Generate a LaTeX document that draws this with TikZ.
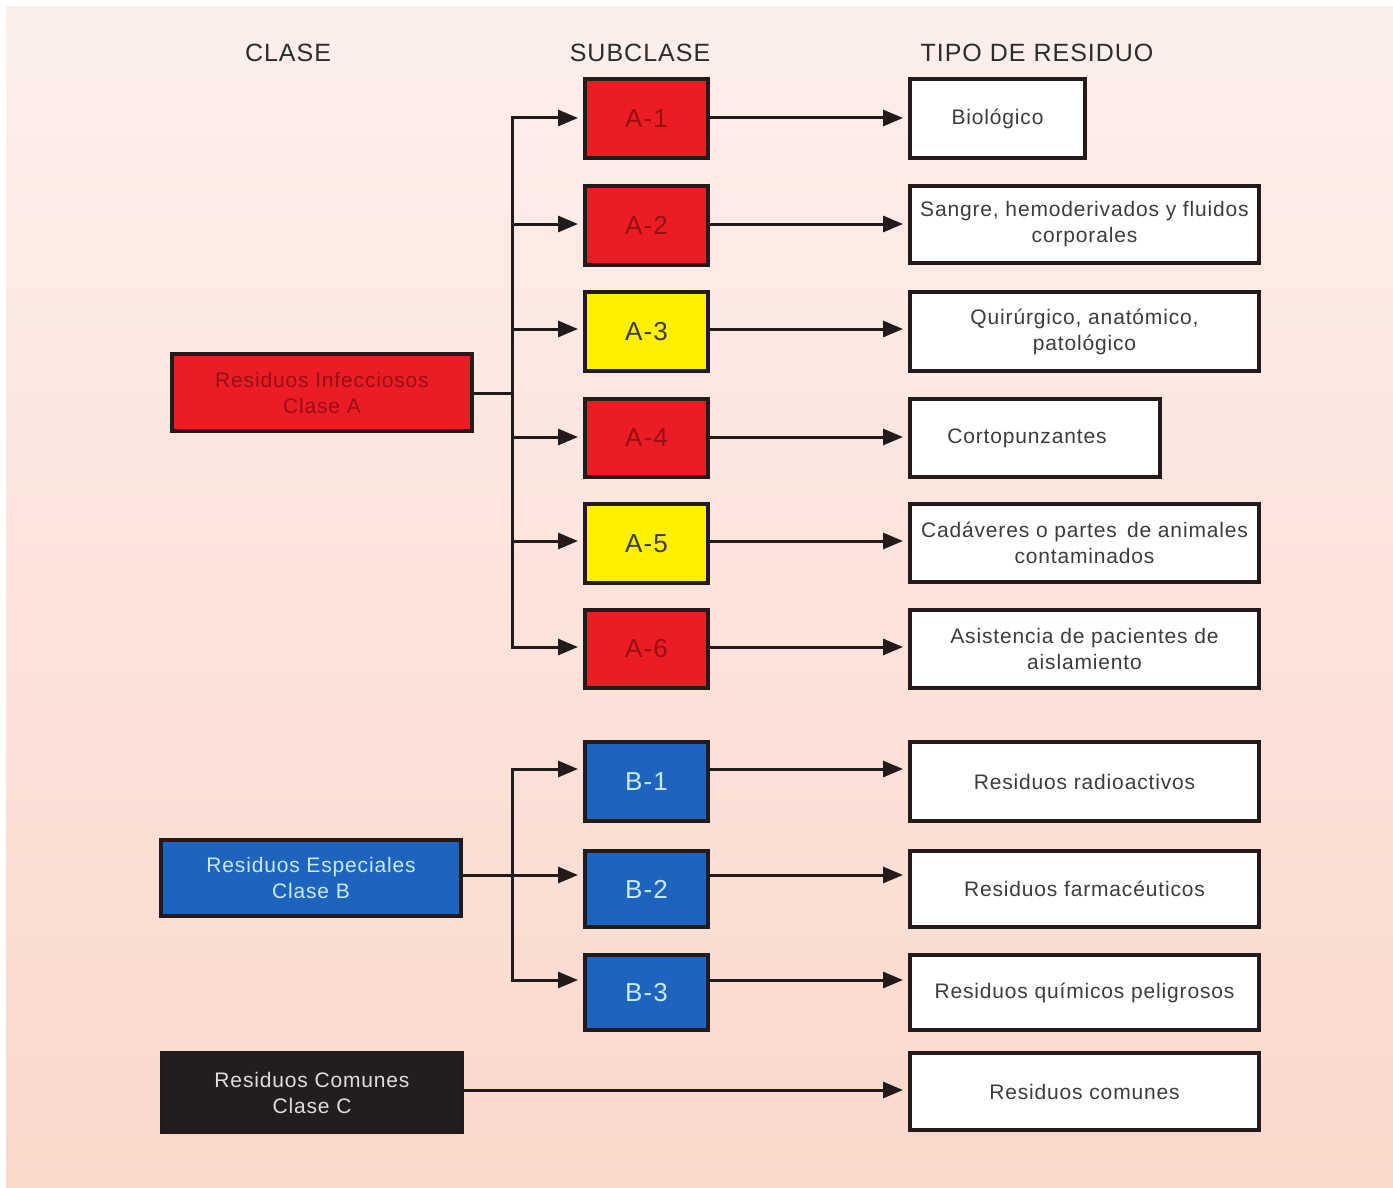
\documentclass[tikz,border=0pt]{standalone}
\usepackage{fontspec}
\setmainfont{Liberation Sans}[LetterSpace=4]
\usetikzlibrary{arrows.meta}
\definecolor{bgtop}{RGB}{252,239,235}
\definecolor{bgbot}{RGB}{250,216,204}
\definecolor{edge}{RGB}{35,27,27}
\definecolor{redfill}{RGB}{236,28,36}
\definecolor{redtxt}{RGB}{150,15,20}
\definecolor{yelfill}{RGB}{255,240,0}
\definecolor{bluefill}{RGB}{30,100,190}
\definecolor{bluetxt}{RGB}{200,232,250}
\definecolor{blkfill}{RGB}{35,30,30}
\definecolor{blktxt}{RGB}{222,222,222}
\definecolor{txtgray}{RGB}{60,60,60}
\definecolor{headtxt}{RGB}{45,45,45}
\begin{document}
\begin{tikzpicture}[x=1pt,y=-1pt,
  box/.style={draw=edge, line width=4pt, inner sep=0pt, align=center,
    font=\fontsize{21}{26}\selectfont},
  cls/.style={box, minimum width=300pt},
  sub/.style={box, minimum width=123pt, font=\fontsize{26}{30}\selectfont},
  redsub/.style={sub, fill=redfill, text=redtxt},
  yelsub/.style={sub, fill=yelfill, text=txtgray},
  bluesub/.style={sub, fill=bluefill, text=bluetxt},
  typ/.style={box, fill=white, text=txtgray},
  head/.style={text=headtxt, font=\fontsize{25}{30}\selectfont, inner sep=0pt},
  ln/.style={line width=3pt, draw=edge},
  arr/.style={line width=3pt, draw=edge, shorten >=5pt, -{Triangle[length=20pt,width=16pt]}}
]
\useasboundingbox (0,0) rectangle (1393,1188);
\fill[white] (0,0) rectangle (1393,1188);
\shade[top color=bgtop, bottom color=bgbot] (6,7) rectangle (1393,1188);

% headers
\node[head] (hclase) at (288,53) {CLASE};
\node[head] (hsub) at (640,53) {SUBCLASE};
\node[head] (htipo) at (1037,53) {TIPO DE RESIDUO};

% class boxes
\node[cls, fill=redfill, text=redtxt, minimum height=77pt] (A) at (322,392.5) {Residuos Infecciosos\\Clase A};
\node[cls, fill=bluefill, text=bluetxt, minimum height=76pt] (B) at (311,878) {Residuos Especiales\\Clase B};
\node[cls, fill=blkfill, text=blktxt, minimum height=79pt] (C) at (312,1092.5) {Residuos Comunes\\Clase C};

% subclass boxes
\node[redsub, minimum height=79pt] (A1) at (646.5,118.5) {A-1};
\node[redsub, minimum height=79pt] (A2) at (646.5,225.5) {A-2};
\node[yelsub, minimum height=79pt] (A3) at (646.5,331.5) {A-3};
\node[redsub, minimum height=78pt] (A4) at (646.5,438) {A-4};
\node[yelsub, minimum height=79pt] (A5) at (646.5,543.5) {A-5};
\node[redsub, minimum height=78pt] (A6) at (646.5,649) {A-6};
\node[bluesub, minimum height=79pt] (B1) at (646.5,781.5) {B-1};
\node[bluesub, minimum height=76pt] (B2) at (646.5,889) {B-2};
\node[bluesub, minimum height=75pt] (B3) at (646.5,992.5) {B-3};

% type boxes
\node[typ, minimum width=175pt, minimum height=79pt] (T1) at (997.5,118.5) {Biológico};
\node[typ, minimum width=349pt, minimum height=77pt] (T2) at (1084.5,224.5) {Sangre, hemoderivados y fluidos\\corporales};
\node[typ, minimum width=349pt, minimum height=79pt] (T3) at (1084.5,331.5) {Quirúrgico, anatómico,\\patológico};
\node[typ, minimum width=250pt, minimum height=78pt] (T4) at (1035,438) {\hspace*{-16pt}Cortopunzantes};
\node[typ, minimum width=349pt, minimum height=78pt] (T5) at (1084.5,543) {Cadáveres o partes\, de animales\\contaminados};
\node[typ, minimum width=349pt, minimum height=78pt] (T6) at (1084.5,649) {Asistencia de pacientes de\\aislamiento};
\node[typ, minimum width=349pt, minimum height=79pt] (T7) at (1084.5,781.5) {Residuos radioactivos};
\node[typ, minimum width=349pt, minimum height=76pt] (T8) at (1084.5,889) {Residuos farmacéuticos};
\node[typ, minimum width=349pt, minimum height=75pt] (T9) at (1084.5,992.5) {Residuos químicos peligrosos};
\node[typ, minimum width=349pt, minimum height=77pt] (T10) at (1084.5,1091.5) {Residuos comunes};

% junction coordinates
\coordinate (ja) at (512,393);
\coordinate (ta1) at (512,118);
\coordinate (ta2) at (512,224);
\coordinate (ta3) at (512,329);
\coordinate (ta4) at (512,437);
\coordinate (ta5) at (512,541);
\coordinate (ta6) at (512,647);
\coordinate (tb1) at (512,769);
\coordinate (tb2) at (512,875);
\coordinate (tb3) at (512,980);
\coordinate (tc) at (512,1090);

% class A tree
\draw[ln] (A.east |- ja) -- (ja);
\draw[ln, line cap=rect] (ta1) -- (ta6);
\foreach \t/\s in {ta1/A1,ta2/A2,ta3/A3,ta4/A4,ta5/A5,ta6/A6}{
  \draw[arr] (\t) -- (\t -| \s.west);
}
% class B tree
\draw[ln] (B.east |- tb2) -- (tb2);
\draw[ln, line cap=rect] (tb1) -- (tb3);
\foreach \t/\s in {tb1/B1,tb2/B2,tb3/B3}{
  \draw[arr] (\t) -- (\t -| \s.west);
}
% subclass to type
\foreach \t/\s/\r in {ta1/A1/T1,ta2/A2/T2,ta3/A3/T3,ta4/A4/T4,ta5/A5/T5,ta6/A6/T6,tb1/B1/T7,tb2/B2/T8,tb3/B3/T9}{
  \draw[arr] (\t -| \s.east) -- (\t -| \r.west);
}
% class C
\draw[arr] (C.east |- tc) -- (tc -| T10.west);
\end{tikzpicture}
\end{document}
